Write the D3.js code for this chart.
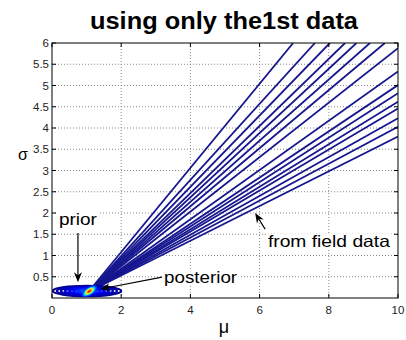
<!DOCTYPE html>
<html>
<head>
<meta charset="utf-8">
<script src="https://cdn.jsdelivr.net/npm/d3@7"></script>
<style>
  body { margin: 0; background: #fff; }
  text { font-family: "Liberation Sans", Arial, sans-serif; }
</style>
</head>
<body>
<div class="container"></div>
<script>
// chart values
var xTicks = [0, 2, 4, 6, 8, 10];
var yTicks = [0.5, 1, 1.5, 2, 2.5, 3, 3.5, 4, 4.5, 5, 5.5, 6];
var yTickLabels = ["0.5", "1", "1.5", "2", "2.5", "3", "3.5", "4", "4.5", "5", "5.5", "6"];

// field data contour lines: common base, end on top edge (mu) or right edge (sigma)
var fanBase = [1.05, 0.14];
var fanTopMu = [6.97, 7.6, 8.03, 8.47, 8.8, 9.19, 9.62];
var fanRightSigma = [5.88, 5.33, 5.01, 4.82, 4.62, 4.46, 4.23, 4.03, 3.8];

// prior contours
var priorCenter = [1.01, 0.165];
var priorHalf = [0.99, 0.12];
var priorLevels = [1, 0.88, 0.76, 0.64, 0.52, 0.4, 0.28, 0.16];
var priorColors = ["#00008f", "#0000a0", "#0000b8", "#0000d0", "#0000e8", "#0010ff", "#0030ff", "#0050ff"];

// posterior blob
var postCenter = [1.08, 0.16];
var postAxis = [1, 0.53];
var postHalf = [9, 4.2];
var postLevels = [1, 0.8, 0.62, 0.46, 0.3, 0.16];
var postColors = ["#0030ff", "#00b0ff", "#60ffa0", "#ffe000", "#ff6000", "#d00000"];

// annotations
var labels = [
  { text: "prior", at: [0.2, 1.72], len: 38, arrow: [[0.75, 1.53], [0.75, 0.37]] },
  { text: "posterior", at: [3.24, 0.35], len: 73, arrow: [[3.18, 0.49], [1.39, 0.21]] },
  { text: "from field data", at: [6.24, 1.2], len: 122, arrow: [[6.16, 1.62], [5.87, 2.0]] }
];

const WIDTH = 406, HEIGHT = 340;
const LEFT = 52, RIGHT = 398, TOP = 43, BOTTOM = 298;

var svg = d3.select('.container').append('svg')
    .attr('width', WIDTH)
    .attr('height', HEIGHT);

var x = d3.scaleLinear().domain([0, 10]).range([LEFT, RIGHT]);
var y = d3.scaleLinear().domain([0, 6]).range([BOTTOM, TOP]);

svg.append('defs').append('clipPath').attr('id', 'plot')
  .append('rect')
    .attr('x', LEFT).attr('y', TOP)
    .attr('width', RIGHT - LEFT).attr('height', BOTTOM - TOP);

// grid
var grid = svg.append('g').attr('stroke', '#8a8a8a').attr('stroke-dasharray', '1,2').attr('stroke-width', 1);
grid.selectAll('.gx').data(xTicks.slice(1, -1)).enter().append('line')
    .attr('x1', d => x(d)).attr('x2', d => x(d))
    .attr('y1', TOP).attr('y2', BOTTOM);
grid.selectAll('.gy').data(yTicks.slice(0, -1)).enter().append('line')
    .attr('x1', LEFT).attr('x2', RIGHT)
    .attr('y1', d => y(d)).attr('y2', d => y(d));

var plot = svg.append('g').attr('clip-path', 'url(#plot)');

// fan lines
var fanEnds = fanTopMu.map(m => [m, 6]).concat(fanRightSigma.map(s => [10, s]));
plot.selectAll('.fan').data(fanEnds).enter().append('line')
    .attr('x1', x(fanBase[0])).attr('y1', y(fanBase[1]))
    .attr('x2', d => x(d[0])).attr('y2', d => y(d[1]))
    .attr('stroke', '#16168f').attr('stroke-width', 1.8);

// prior ellipses
plot.selectAll('.prior').data(priorLevels).enter().append('ellipse')
    .attr('cx', x(priorCenter[0])).attr('cy', y(priorCenter[1]))
    .attr('rx', d => x(priorCenter[0] + priorHalf[0] * d) - x(priorCenter[0]))
    .attr('ry', d => y(priorCenter[1]) - y(priorCenter[1] + priorHalf[1] * d))
    .attr('fill', 'none')
    .attr('stroke', (d, i) => priorColors[i])
    .attr('stroke-width', 2.2);

// posterior blob
var ang = Math.atan2(y(postCenter[1] + postAxis[1]) - y(postCenter[1]), x(postCenter[0] + postAxis[0]) - x(postCenter[0])) * 180 / Math.PI;
plot.append('g')
    .attr('transform', 'translate(' + x(postCenter[0]) + ',' + y(postCenter[1]) + ') rotate(' + ang + ')')
  .selectAll('ellipse').data(postLevels).enter().append('ellipse')
    .attr('rx', d => postHalf[0] * d).attr('ry', d => postHalf[1] * d)
    .attr('fill', (d, i) => postColors[i]);

// box and inside ticks
var axes = svg.append('g').attr('stroke', '#000').attr('stroke-width', 1);
axes.append('rect')
    .attr('x', LEFT).attr('y', TOP)
    .attr('width', RIGHT - LEFT).attr('height', BOTTOM - TOP)
    .attr('fill', 'none');
xTicks.forEach(function (t) {
  axes.append('line').attr('x1', x(t)).attr('x2', x(t)).attr('y1', BOTTOM).attr('y2', BOTTOM - 4);
  axes.append('line').attr('x1', x(t)).attr('x2', x(t)).attr('y1', TOP).attr('y2', TOP + 4);
});
yTicks.forEach(function (t) {
  axes.append('line').attr('x1', LEFT).attr('x2', LEFT + 4).attr('y1', y(t)).attr('y2', y(t));
  axes.append('line').attr('x1', RIGHT).attr('x2', RIGHT - 4).attr('y1', y(t)).attr('y2', y(t));
});

// tick labels
svg.selectAll('.xl').data(xTicks).enter().append('text')
    .attr('x', d => x(d)).attr('y', BOTTOM + 16)
    .attr('text-anchor', 'middle').attr('font-size', 11.5).attr('fill', '#222')
    .text(d => d);
svg.selectAll('.yl').data(yTicks).enter().append('text')
    .attr('x', LEFT - 3).attr('y', d => y(d) + 4)
    .attr('text-anchor', 'end').attr('font-size', 11.5).attr('fill', '#222')
    .text((d, i) => yTickLabels[i]);

// title and axis labels
svg.append('text')
    .attr('x', 224).attr('y', 29)
    .attr('text-anchor', 'middle').attr('font-size', 23).attr('font-weight', 'bold')
    .attr('textLength', 268).attr('lengthAdjust', 'spacingAndGlyphs')
    .text('using only the1st data');
svg.append('text')
    .attr('x', 23).attr('y', 160)
    .attr('text-anchor', 'middle').attr('font-size', 16)
    .text('σ');
svg.append('text')
    .attr('x', 224).attr('y', 333)
    .attr('text-anchor', 'middle').attr('font-size', 18)
    .text('μ');

// annotations
var arrowHead = function (g, p0, p1) {
  var x0 = x(p0[0]), y0 = y(p0[1]), x1 = x(p1[0]), y1 = y(p1[1]);
  var a = Math.atan2(y1 - y0, x1 - x0);
  var L = 10, W = 4, back = 7;
  var ca = Math.cos(a), sa = Math.sin(a);
  g.append('line')
      .attr('x1', x0).attr('y1', y0)
      .attr('x2', x1 - ca * back).attr('y2', y1 - sa * back)
      .attr('stroke', '#000').attr('stroke-width', 1.2);
  var pts = [
    [x1, y1],
    [x1 - ca * L - sa * W, y1 - sa * L + ca * W],
    [x1 - ca * back, y1 - sa * back],
    [x1 - ca * L + sa * W, y1 - sa * L - ca * W]
  ];
  g.append('path').attr('d', 'M' + pts.join('L') + 'Z').attr('fill', '#000');
};

labels.forEach(function (d) {
  var g = svg.append('g');
  var bg = g.append('rect').attr('fill', '#fff');
  var t = g.append('text')
      .attr('x', x(d.at[0])).attr('y', y(d.at[1]))
      .attr('font-size', 16.5)
      .attr('textLength', d.len).attr('lengthAdjust', 'spacingAndGlyphs')
      .text(d.text);
  var b = t.node().getBBox();
  bg.attr('x', b.x - 1).attr('y', b.y + 2).attr('width', b.width + 2).attr('height', b.height - 3);
  arrowHead(svg, d.arrow[0], d.arrow[1]);
});
</script>
</body>
</html>
